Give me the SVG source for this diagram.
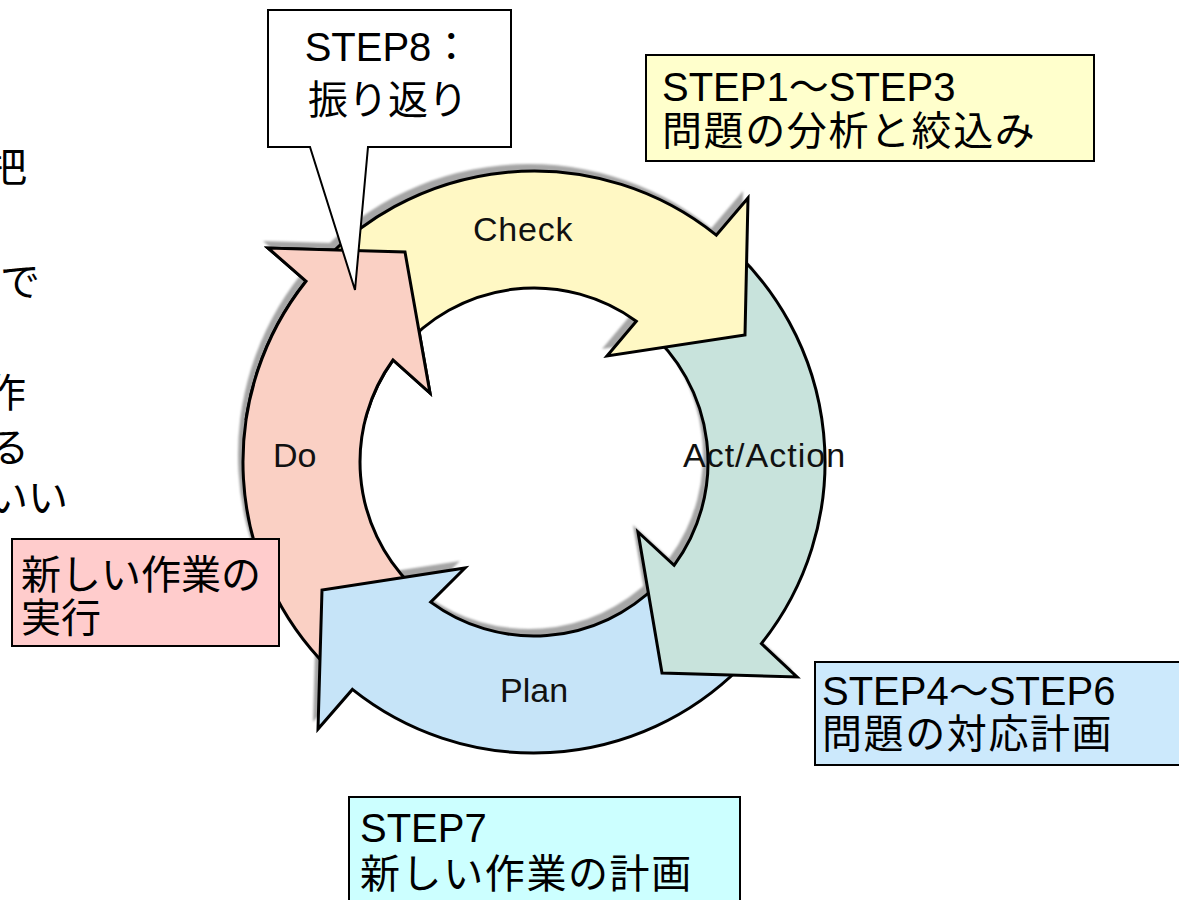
<svg xmlns="http://www.w3.org/2000/svg" xmlns:xlink="http://www.w3.org/1999/xlink" width="1179" height="900" viewBox="0 0 1179 900">
  <style>
    .arrow { stroke: #000; stroke-width: 3; stroke-linejoin: miter; stroke-miterlimit: 10; }
    .check { fill: #fff8c4; }
    .act { fill: #c8e3dc; }
    .plan { fill: #c6e4f8; }
    .do { fill: #fad0c4; }
    .shadow { fill: #a6a6a6; stroke: none; }
    .ring-label { font-family: "Liberation Sans", Arial, sans-serif; font-size: 34px; fill: #111; }
    .box { stroke: #000; stroke-width: 2; }
    .box-text { font-family: "Liberation Sans", "Noto Sans CJK JP", sans-serif; font-size: 40px; fill: #000; }
    .wide { letter-spacing: 1.6px; }
    .edge-text { font-family: "Noto Sans CJK JP", sans-serif; font-size: 40px; fill: #000; }
  </style>
  <defs>
    <!-- ring centre (534,462), outer radius 291, inner radius 174 -->
    <path id="p-check" d="M311.1,274.9 A291,291 0 0 1 716.3,235.2 L748,198 L745,335 L607,356 L636.3,321.2 A174,174 0 0 0 400.7,350.2 Z"/>
    <path id="p-act" d="M721.1,239.1 A291,291 0 0 1 761.4,643.6 L797,677 L662,673 L638,532 L674.1,565.3 A174,174 0 0 0 645.8,328.7 Z"/>
    <path id="p-plan" d="M739.8,667.8 A291,291 0 0 1 352.4,689.4 L318,729 L322,590 L465,568 L430.7,602.1 A174,174 0 0 0 657,585 Z"/>
    <path id="p-do" d="M328.2,667.8 A291,291 0 0 1 306,281.2 L268,248 L405,252 L430,393 L393,360 A174,174 0 0 0 411,585 Z"/>
    <filter id="soft" x="-10%" y="-10%" width="120%" height="120%">
      <feGaussianBlur stdDeviation="1"/>
    </filter>
    <clipPath id="do-head-clip">
      <rect x="240" y="230" width="210" height="190"/>
    </clipPath>
  </defs>

  <rect width="1179" height="900" fill="#fff"/>

  <!-- text lines running in from the left edge -->
  <g id="edge-text" class="edge-text" text-anchor="end">
    <text x="27" y="182">把</text>
    <text x="40" y="296">で</text>
    <text x="26" y="407">作</text>
    <text x="29" y="462">る</text>
    <text x="68" y="512">いい</text>
  </g>

  <!-- drop shadows of the four cycle arrows -->
  <g id="shadows" class="shadow" filter="url(#soft)" transform="translate(-5,-7)">
    <use xlink:href="#p-do"/>
    <use xlink:href="#p-plan"/>
    <use xlink:href="#p-act"/>
    <use xlink:href="#p-check"/>
  </g>

  <g id="arrow-do">
    <use xlink:href="#p-do" class="arrow do"/>
    <text class="ring-label" x="273" y="467">Do</text>
  </g>

  <g id="arrow-plan">
    <use xlink:href="#p-plan" class="arrow plan"/>
    <text class="ring-label" x="500" y="702">Plan</text>
  </g>

  <g id="arrow-act">
    <use xlink:href="#p-act" class="arrow act"/>
  </g>

  <g id="arrow-check">
    <use xlink:href="#p-check" class="arrow check"/>
    <text class="ring-label" x="473" y="241" letter-spacing="0.8">Check</text>
  </g>

  <!-- Do arrowhead sits over the tail of the Check arrow -->
  <g id="arrow-do-head" clip-path="url(#do-head-clip)">
    <use xlink:href="#p-do" class="arrow do"/>
  </g>

  <g id="label-act">
    <text class="ring-label" x="683" y="467" letter-spacing="1">Act/Action</text>
  </g>

  <!-- callout -->
  <g id="callout-step8">
    <path d="M268,10 H511 V147 H368 L355,290 L310,147 H268 Z" fill="#fff" stroke="#000" stroke-width="2" stroke-linejoin="miter"/>
    <text class="box-text" x="388" y="61" text-anchor="middle" font-size="38">STEP8：</text>
    <text class="box-text" x="388" y="114" text-anchor="middle">振り返り</text>
  </g>

  <g id="box-step1-3">
    <rect class="box" x="646" y="55" width="448" height="106" fill="#ffffcc"/>
    <text class="box-text" x="662" y="101">STEP1～STEP3</text>
    <text class="box-text wide" x="662" y="145">問題の分析と絞込み</text>
  </g>

  <g id="box-step4-6">
    <rect class="box" x="815" y="662" width="380" height="103" fill="#cce9fc"/>
    <text class="box-text" x="822" y="705">STEP4～STEP6</text>
    <text class="box-text wide" x="822" y="748">問題の対応計画</text>
  </g>

  <g id="box-step7">
    <rect class="box" x="349" y="797" width="391" height="120" fill="#ccffff"/>
    <text class="box-text" x="360" y="842">STEP7</text>
    <text class="box-text wide" x="360" y="888">新しい作業の計画</text>
  </g>

  <g id="box-do">
    <rect class="box" x="12" y="539" width="267" height="107" fill="#ffcccc"/>
    <text class="box-text" x="21" y="589">新しい作業の</text>
    <text class="box-text" x="21" y="632">実行</text>
  </g>
</svg>
